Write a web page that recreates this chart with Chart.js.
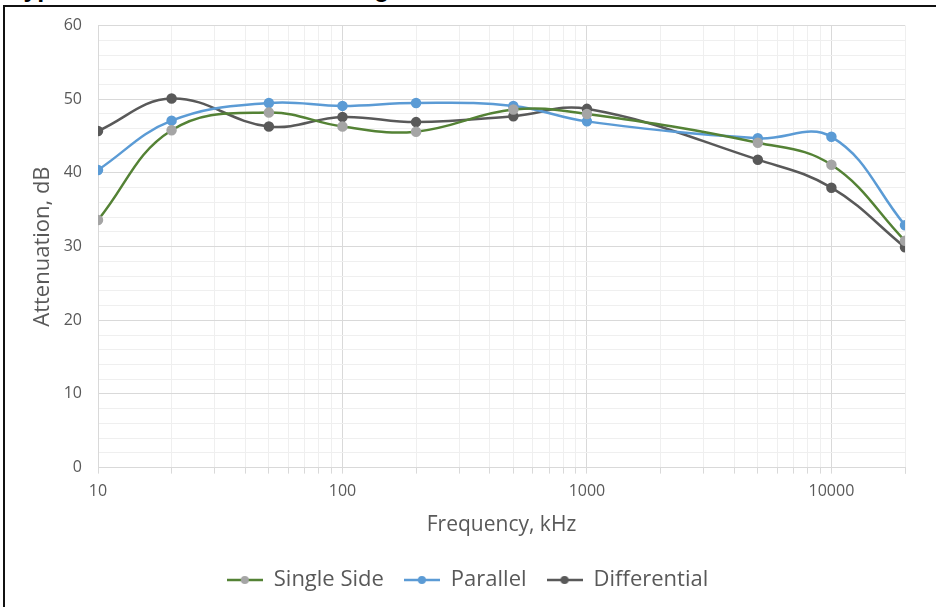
<!DOCTYPE html>
<html>
<head>
<meta charset="utf-8">
<script src="https://cdn.jsdelivr.net/npm/chart.js@4/dist/chart.umd.min.js"></script>
<style>
  html, body { margin: 0; padding: 0; background: #fff; overflow: hidden; }
  #wrap { position: relative; width: 936px; height: 607px; overflow: hidden; }
  #frame { position: absolute; left: 3px; top: 5px; width: 1000px; height: 700px;
           border-left: 2px solid #111; border-top: 2px solid #111; box-sizing: border-box; }
  #clipTitle { position: absolute; left: 10px; top: -26px; font: bold 25px "Liberation Sans", Arial, sans-serif;
               color: #000; white-space: nowrap; }
  canvas { position: absolute; left: 0; top: 0; }
</style>
</head>
<body>
<div id="wrap">
  <div id="clipTitle">Typical Attenuation of Shielding Methods</div>
  <div id="frame"></div>
  <canvas id="chart" width="936" height="607"></canvas>
</div>
<script>
// frequency points, kHz
const freqs = [10, 20, 50, 100, 200, 500, 1000, 5000, 10000, 20000];
const singleSide = [33.6, 45.8, 48.2, 46.3, 45.6, 48.6, 48.0, 44.1, 41.1, 30.8];
const parallel = [40.4, 47.1, 49.5, 49.1, 49.5, 49.1, 47.0, 44.7, 44.9, 32.9];
const differential = [45.7, 50.1, 46.3, 47.6, 46.9, 47.7, 48.7, 41.8, 38.0, 29.9];
const xLabels = [10, 100, 1000, 10000];

const tickColor = "#595959";
const fontFam = "'Open Sans', 'Noto Sans', sans-serif";

function toPoints(vals) {
  return freqs.map((f, i) => ({ x: f, y: vals[i] }));
}

function legendIcon(lineColor, dotColor) {
  const c = document.createElement("canvas");
  c.width = 36; c.height = 12;
  const g = c.getContext("2d");
  g.strokeStyle = lineColor;
  g.lineWidth = 2.5;
  g.beginPath(); g.moveTo(0, 6); g.lineTo(36, 6); g.stroke();
  g.fillStyle = dotColor;
  g.beginPath(); g.arc(18, 6, 4, 0, Math.PI * 2); g.fill();
  return c;
}

const series = [
  { label: "Single Side", data: singleSide, line: "#548235", dot: "#A5A5A5" },
  { label: "Parallel", data: parallel, line: "#5B9BD5", dot: "#5B9BD5" },
  { label: "Differential", data: differential, line: "#595959", dot: "#595959" }
];

new Chart(document.getElementById("chart"), {
  type: "line",
  data: {
    datasets: series.map(s => ({
      label: s.label,
      data: toPoints(s.data),
      borderColor: s.line,
      backgroundColor: s.dot,
      pointBackgroundColor: s.dot,
      pointBorderColor: s.dot,
      pointRadius: 4,
      borderWidth: 2.5,
      tension: 0.4,
      fill: false
    }))
  },
  options: {
    responsive: false,
    animation: false,
    layout: { padding: { left: 30, right: 31, top: 25, bottom: 6 } },
    plugins: {
      tooltip: { enabled: false },
      legend: {
        position: "bottom",
        labels: {
          color: tickColor,
          font: { family: fontFam, size: 22 },
          usePointStyle: true,
          pointStyleWidth: 36,
          padding: 20,
          generateLabels(chart) {
            const items = Chart.defaults.plugins.legend.labels.generateLabels(chart);
            items.forEach((it, i) => { it.pointStyle = legendIcon(series[i].line, series[i].dot); });
            return items;
          }
        }
      }
    },
    scales: {
      x: {
        type: "logarithmic",
        min: 10,
        max: 20000,
        afterBuildTicks(axis) {
          const t = [];
          for (let d = 10; d <= 10000; d *= 10) {
            for (let m = 1; m <= 9; m++) t.push({ value: d * m });
          }
          t.push({ value: 20000 });
          axis.ticks = t.filter(v => v.value <= 20000);
        },
        ticks: {
          autoSkip: false,
          maxRotation: 0,
          color: tickColor,
          font: { family: fontFam, size: 16 },
          padding: 8,
          callback(v) { return xLabels.includes(v) ? String(v) : ""; }
        },
        grid: {
          color(ctx) {
            const v = ctx.tick && ctx.tick.value;
            return xLabels.includes(v) ? "#d9d9d9" : "#efefef";
          },
          lineWidth: 1,
          tickLength: 6,
          tickColor: "#d9d9d9"
        },
        border: { color: "#d9d9d9" },
        title: {
          display: true,
          text: "Frequency, kHz",
          color: tickColor,
          font: { family: fontFam, size: 21 },
          padding: { top: 4, bottom: 11 }
        }
      },
      y: {
        min: 0,
        max: 60,
        afterFit(axis) { axis.width = 68; },
        ticks: {
          stepSize: 2,
          autoSkip: false,
          color: tickColor,
          font: { family: fontFam, size: 16 },
          padding: 16,
          callback(v) { return v % 10 === 0 ? String(v) : ""; }
        },
        grid: {
          color(ctx) {
            const v = ctx.tick && ctx.tick.value;
            return v % 10 === 0 ? "#d9d9d9" : "#efefef";
          },
          lineWidth: 1,
          drawTicks: false
        },
        border: { color: "#d9d9d9" },
        title: {
          display: true,
          text: "Attenuation, dB",
          color: tickColor,
          font: { family: fontFam, size: 22 },
          padding: { top: 0, bottom: 0 }
        }
      }
    }
  }
});
</script>
</body>
</html>
